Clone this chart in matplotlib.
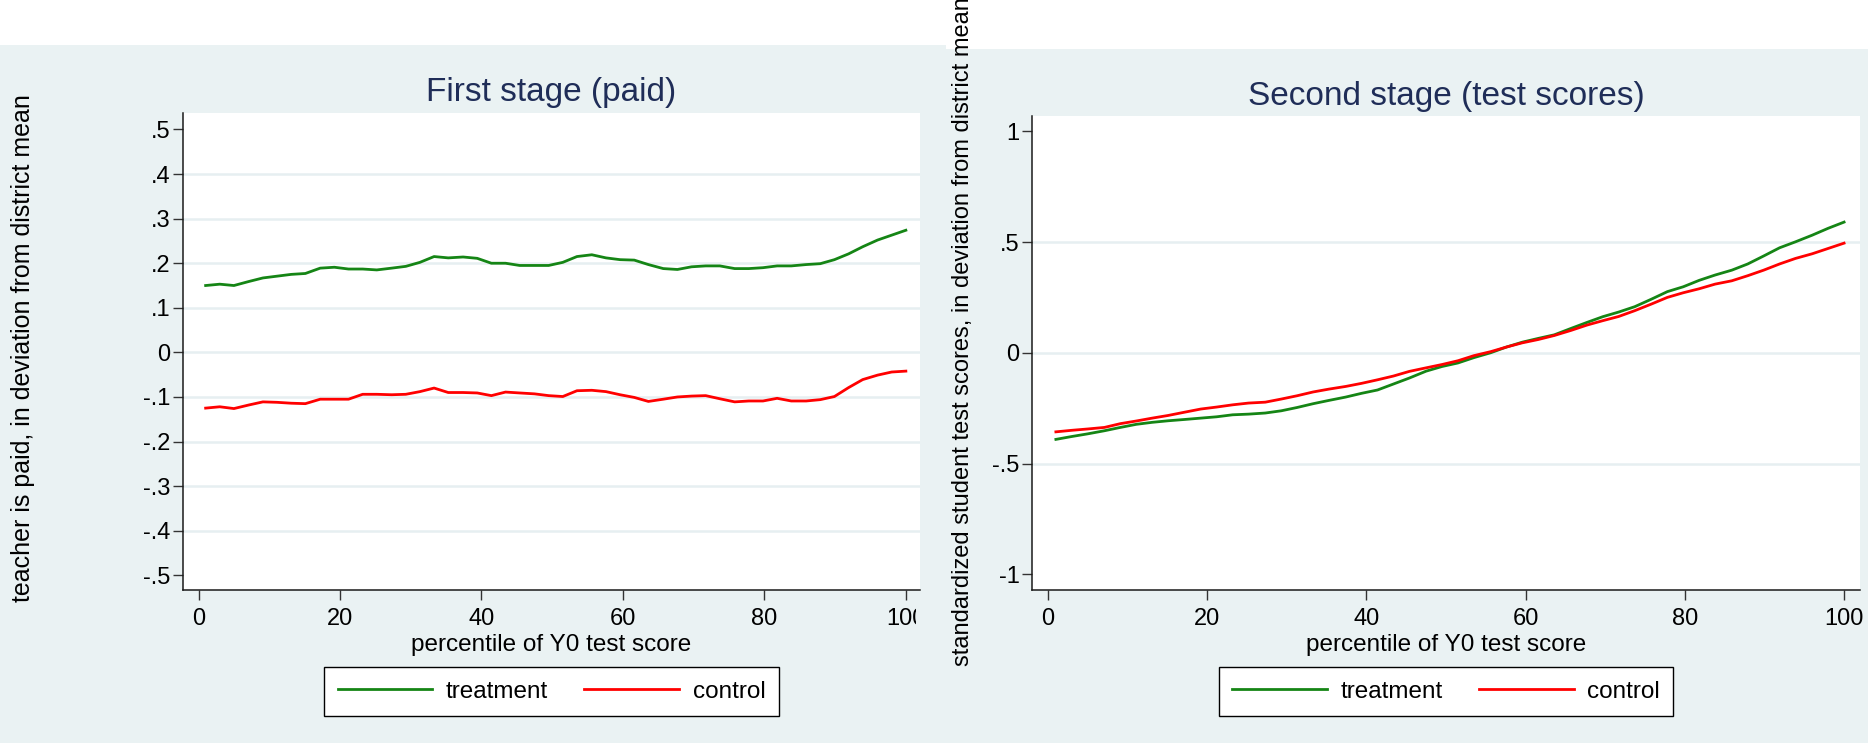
import matplotlib
matplotlib.use("Agg")
import matplotlib.pyplot as plt
from matplotlib.patches import Rectangle
from matplotlib.lines import Line2D
from matplotlib.transforms import Bbox, TransformedBbox

# percentile bins of the baseline (Y0) score
pctile = [1.0, 3.0, 5.0, 7.1, 9.1, 11.1, 13.1, 15.1, 17.2, 19.2,
          21.2, 23.2, 25.2, 27.3, 29.3, 31.3, 33.3, 35.3, 37.4, 39.4,
          41.4, 43.4, 45.4, 47.5, 49.5, 51.5, 53.5, 55.6, 57.6, 59.6,
          61.6, 63.6, 65.7, 67.7, 69.7, 71.7, 73.7, 75.8, 77.8, 79.8,
          81.8, 83.8, 85.9, 87.9, 89.9, 91.9, 93.9, 96.0, 98.0, 100.0]

# first stage: teacher is paid
paid_treat = [0.150, 0.153, 0.150, 0.159, 0.167, 0.171, 0.175, 0.177, 0.189, 0.191,
              0.187, 0.187, 0.185, 0.189, 0.193, 0.202, 0.215, 0.212, 0.214, 0.211,
              0.200, 0.200, 0.195, 0.195, 0.195, 0.202, 0.215, 0.219, 0.212, 0.208,
              0.207, 0.197, 0.188, 0.186, 0.192, 0.194, 0.194, 0.188, 0.188, 0.190,
              0.194, 0.194, 0.197, 0.199, 0.208, 0.221, 0.237, 0.252, 0.263, 0.274]
paid_ctrl = [-0.125, -0.122, -0.126, -0.118, -0.111, -0.112, -0.114, -0.115, -0.105, -0.105,
             -0.105, -0.094, -0.094, -0.095, -0.094, -0.088, -0.080, -0.090, -0.090, -0.091,
             -0.097, -0.089, -0.091, -0.093, -0.097, -0.099, -0.086, -0.085, -0.088, -0.095,
             -0.101, -0.110, -0.105, -0.100, -0.098, -0.097, -0.104, -0.111, -0.109, -0.109,
             -0.103, -0.109, -0.109, -0.106, -0.099, -0.079, -0.061, -0.051, -0.044, -0.042]

# second stage: standardized test scores
score_treat = [-0.391, -0.378, -0.366, -0.352, -0.337, -0.323, -0.314, -0.307, -0.301, -0.295,
               -0.289, -0.280, -0.277, -0.272, -0.262, -0.247, -0.230, -0.215, -0.200, -0.183,
               -0.168, -0.141, -0.114, -0.083, -0.062, -0.046, -0.022, 0.000, 0.026, 0.048,
               0.065, 0.081, 0.110, 0.137, 0.163, 0.184, 0.208, 0.242, 0.276, 0.298,
               0.327, 0.351, 0.373, 0.401, 0.437, 0.474, 0.501, 0.531, 0.562, 0.590]
score_ctrl = [-0.357, -0.350, -0.344, -0.337, -0.320, -0.308, -0.295, -0.283, -0.268, -0.254,
              -0.245, -0.235, -0.227, -0.223, -0.209, -0.194, -0.177, -0.164, -0.152, -0.138,
              -0.122, -0.105, -0.084, -0.068, -0.053, -0.036, -0.013, 0.005, 0.026, 0.045,
              0.060, 0.078, 0.101, 0.125, 0.145, 0.164, 0.190, 0.220, 0.250, 0.271,
              0.289, 0.310, 0.325, 0.348, 0.373, 0.401, 0.426, 0.447, 0.471, 0.495]

xticks = [0, 20, 40, 60, 80, 100]
paid_yticks = [-0.5, -0.4, -0.3, -0.2, -0.1, 0, 0.1, 0.2, 0.3, 0.4, 0.5]
paid_ylabels = ["-.5", "-.4", "-.3", "-.2", "-.1", "0", ".1", ".2", ".3", ".4", ".5"]
score_yticks = [-1, -0.5, 0, 0.5, 1]
score_ylabels = ["-1", "-.5", "0", ".5", "1"]

BG = "#eaf2f3"
GRID = "#e6eff1"
GREEN = "#158515"
RED = "#ff0000"
NAVY = "#1f2d58"

plt.rcParams["font.family"] = ["Liberation Sans", "DejaVu Sans"]

W, H = 1868, 743
fig = plt.figure(figsize=(W / 100, H / 100), dpi=100)
fig.patch.set_facecolor("white")


def box(x0, y0, x1, y1):
    # pixel box measured from the top-left corner -> figure fraction rect
    return [x0 / W, 1 - y1 / H, (x1 - x0) / W, (y1 - y0) / H]


def fx(x):
    return x / W


def fy(y):
    return 1 - y / H


# graph regions
fig.add_artist(Rectangle((0, 0), fx(946), fy(45), transform=fig.transFigure,
                         facecolor=BG, edgecolor="none", zorder=-5))
fig.add_artist(Rectangle((fx(946), 0), 1 - fx(946), fy(49), transform=fig.transFigure,
                         facecolor=BG, edgecolor="none", zorder=-5))


def style(ax, yticks, ylabels, xlim, ylim):
    ax.set_facecolor("white")
    ax.set_xlim(*xlim)
    ax.set_ylim(*ylim)
    for s in ("top", "right"):
        ax.spines[s].set_visible(False)
    for s in ("left", "bottom"):
        ax.spines[s].set_linewidth(1.1)
        ax.spines[s].set_color("#1a1a1a")
    ax.set_xticks(xticks)
    ax.set_xticklabels([str(t) for t in xticks])
    ax.set_yticks(yticks)
    ax.set_yticklabels(ylabels)
    ax.tick_params(direction="out", length=7, width=1.0, color="#333333",
                   labelsize=17, labelcolor="black")
    ax.tick_params(axis="x", pad=6)
    ax.tick_params(axis="y", pad=2)
    for v in yticks[1:-1]:
        ax.axhline(v, color=GRID, lw=1.8, zorder=0.5)


ax1 = fig.add_axes(box(183, 113, 920, 590))
style(ax1, paid_yticks, paid_ylabels, (-2.2, 102.0), (-0.533, 0.537))
ax1.plot(pctile, paid_treat, color=GREEN, lw=2.0, zorder=3)
ax1.plot(pctile, paid_ctrl, color=RED, lw=2.0, zorder=3)

# the last tick label is cut at the edge of the left graph
clip = TransformedBbox(Bbox([[0, 0], [fx(916), 1]]), fig.transFigure)
for lab in ax1.get_xticklabels():
    lab.set_clip_box(clip)
    lab.set_clip_on(True)

ax2 = fig.add_axes(box(1032, 116, 1860, 590))
style(ax2, score_yticks, score_ylabels, (-2.0, 102.0), (-1.071, 1.069))
ax2.plot(pctile, score_treat, color=GREEN, lw=2.0, zorder=3)
ax2.plot(pctile, score_ctrl, color=RED, lw=2.0, zorder=3)

# titles, axis titles
fig.text(fx(551.5), fy(92), "First stage (paid)", fontsize=24, color=NAVY,
         ha="center", va="center")
fig.text(fx(1446), fy(97), "Second stage (test scores)", fontsize=24, color=NAVY,
         ha="center", va="center")
fig.text(fx(551.5), fy(645), "percentile of Y0 test score", fontsize=17.5,
         ha="center", va="center")
fig.text(fx(1446), fy(645), "percentile of Y0 test score", fontsize=17.5,
         ha="center", va="center")
fig.text(fx(23), fy(348), "teacher is paid, in deviation from district mean",
         fontsize=18, rotation=90, ha="center", va="center")
fig.text(fx(963), fy(332),
         "standardized student test scores, in deviation from district mean",
         fontsize=17, rotation=90, ha="center", va="center")

# legends below each graph
handles = [Line2D([], [], color=GREEN, lw=2.0), Line2D([], [], color=RED, lw=2.0)]
for ax, cx in ((ax1, 551.5), (ax2, 1446)):
    leg = ax.legend(handles, ["treatment", "control"], loc="center",
                    bbox_to_anchor=(fx(cx), fy(691.5)), bbox_transform=fig.transFigure,
                    ncol=2, fontsize=17.5, frameon=True, fancybox=False,
                    edgecolor="black", facecolor="white", framealpha=1,
                    handlelength=3.9, handletextpad=0.55, columnspacing=1.5,
                    borderpad=0.55)
    leg.get_frame().set_linewidth(1.0)

fig.savefig("out.png", dpi=100, facecolor=fig.get_facecolor())
plt.close(fig)
